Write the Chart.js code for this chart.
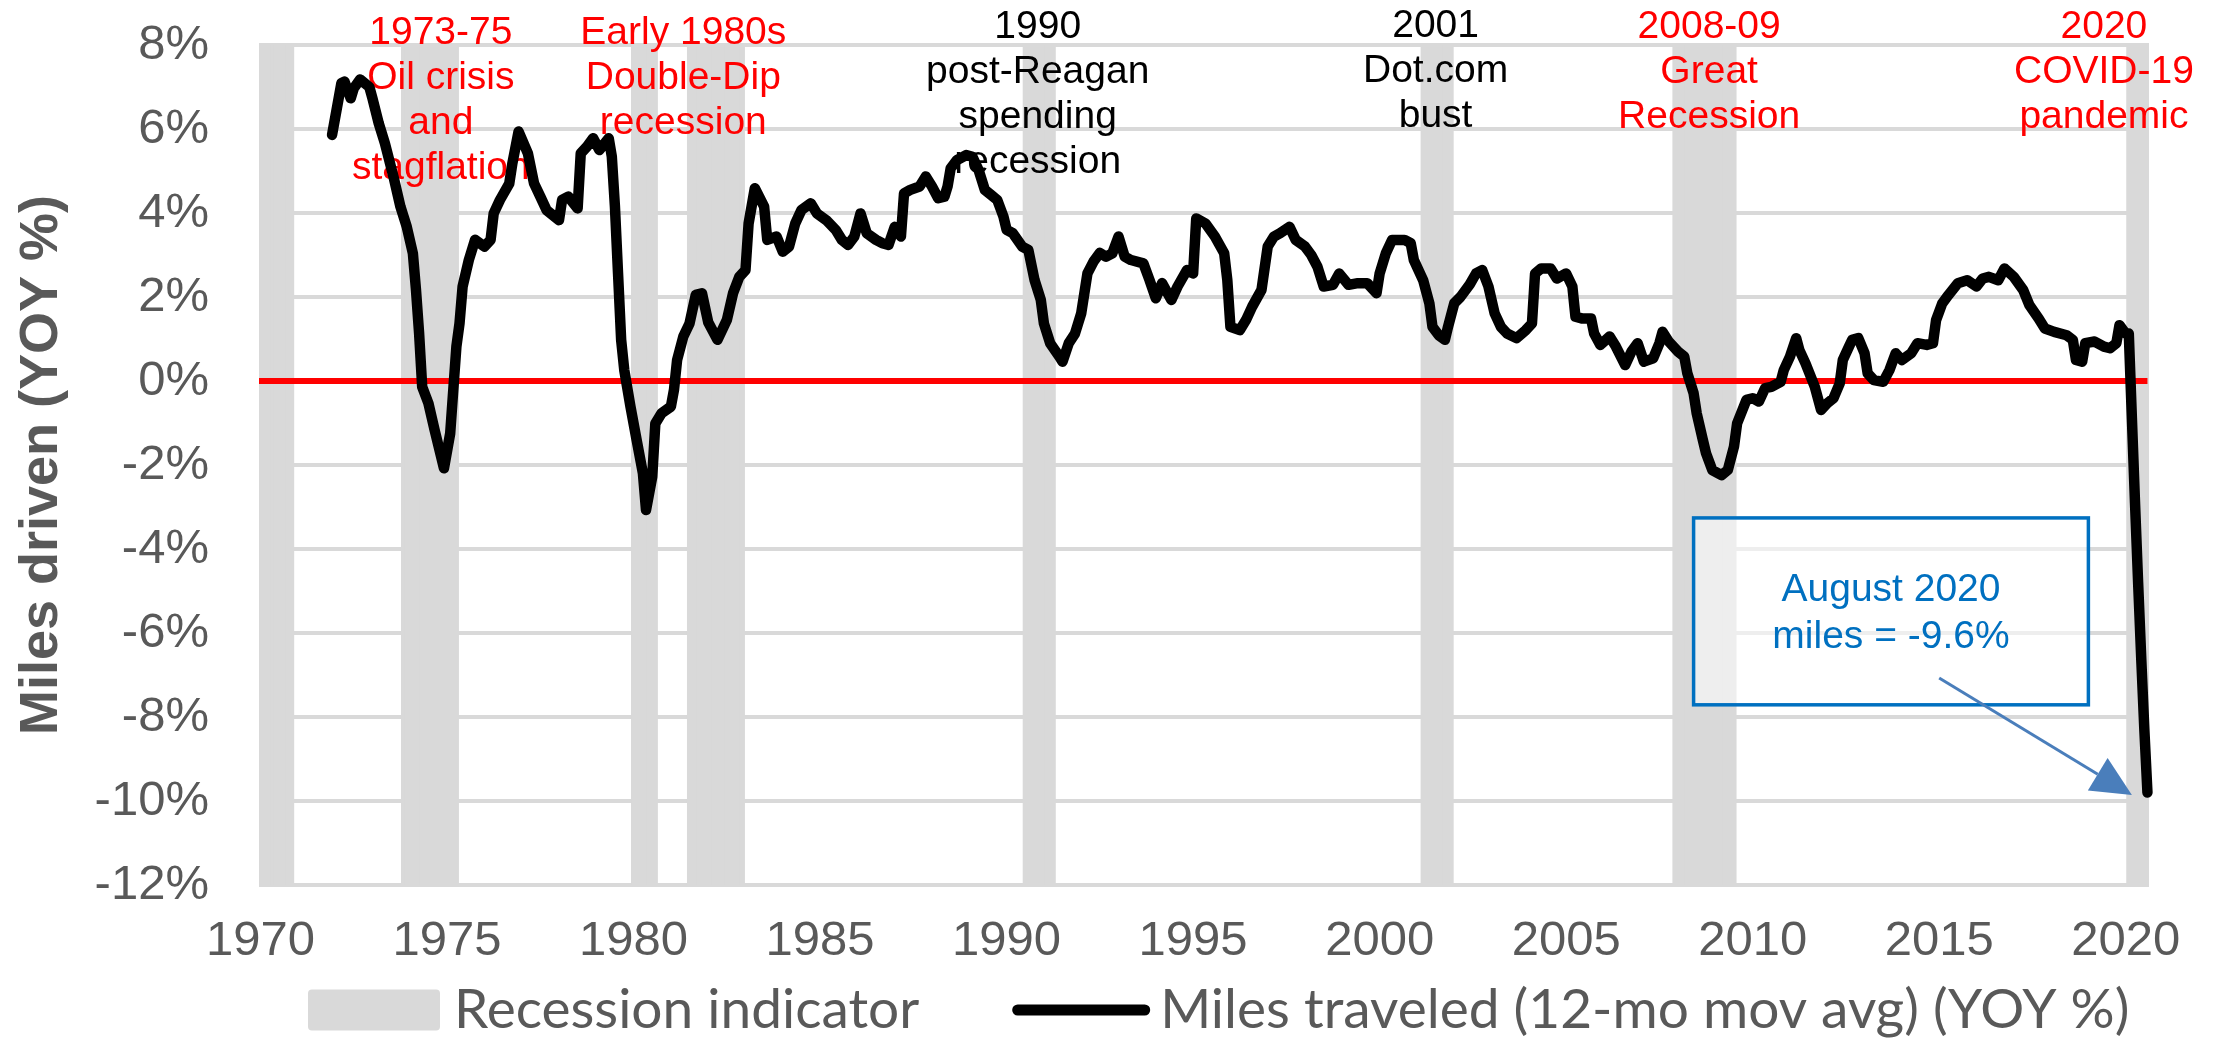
<!DOCTYPE html>
<html>
<head>
<meta charset="utf-8">
<title>Miles driven YOY</title>
<script src="https://cdn.jsdelivr.net/npm/chart.js@4.4.1/dist/chart.umd.min.js"></script>
<style>
  html, body { margin: 0; padding: 0; background: #ffffff; }
  #wrap { width: 2216px; height: 1045px; }
</style>
</head>
<body>
<div id="wrap"><canvas id="chart" width="2216" height="1045"></canvas></div>
<script>
// months on the x axis: Jan 1970 .. Aug 2020
const lastMonth = '2020-08';
const months = [];
for (let y = 1970; y <= 2020; y++) {
    for (let m = 1; m <= 12; m++) {
        const label = y + '-' + String(m).padStart(2, '0');
        months.push(label);
        if (label === lastMonth) break;
    }
}

const yearTicks = ['1970', '1975', '1980', '1985', '1990', '1995', '2000', '2005', '2010', '2015', '2020'];
const yMin = -12;
const yMax = 8;

// recession indicator (gray bands), first and last month of each
const recessionStart = ['1970-01', '1973-11', '1980-01', '1981-07', '1990-07', '2001-03', '2007-12', '2020-02'];
const recessionEnd = ['1970-11', '1975-04', '1980-08', '1982-12', '1991-04', '2001-12', '2009-07', '2020-08'];

// miles traveled, 12-mo moving average, YOY %
const milesMonths = [
    '1971-12',
    '1972-03', '1972-04', '1972-06', '1972-07', '1972-09', '1972-12',
    '1973-01', '1973-03', '1973-05', '1973-08', '1973-10', '1973-12',
    '1974-02', '1974-03', '1974-04', '1974-05', '1974-07', '1974-09', '1974-12',
    '1975-02', '1975-03', '1975-04', '1975-05', '1975-06', '1975-08', '1975-10',
    '1976-01', '1976-03', '1976-04', '1976-06', '1976-09', '1976-10', '1976-12',
    '1977-03', '1977-05', '1977-07', '1977-09',
    '1978-01', '1978-02', '1978-04', '1978-07', '1978-08', '1978-10', '1978-12',
    '1979-02', '1979-05', '1979-06', '1979-07', '1979-08', '1979-09', '1979-10', '1979-12',
    '1980-02', '1980-04', '1980-05', '1980-07', '1980-08', '1980-10',
    '1981-01', '1981-02', '1981-03', '1981-05', '1981-07', '1981-09', '1981-11',
    '1982-01', '1982-04', '1982-07', '1982-09', '1982-11',
    '1983-01', '1983-02', '1983-04', '1983-07', '1983-08', '1983-11',
    '1984-01', '1984-03', '1984-05', '1984-07', '1984-10', '1984-12',
    '1985-03', '1985-06', '1985-08', '1985-10', '1985-12',
    '1986-02', '1986-04', '1986-07', '1986-09', '1986-11',
    '1987-01', '1987-03', '1987-04', '1987-06', '1987-09', '1987-11',
    '1988-01', '1988-03', '1988-05', '1988-06', '1988-07', '1988-09', '1988-12',
    '1989-02', '1989-04', '1989-06', '1989-08', '1989-10', '1989-12',
    '1990-01', '1990-03', '1990-06', '1990-08', '1990-10', '1990-12',
    '1991-01', '1991-03', '1991-06', '1991-07', '1991-09', '1991-11',
    '1992-01', '1992-03', '1992-05', '1992-07', '1992-09', '1992-11',
    '1993-01', '1993-03', '1993-05', '1993-09', '1993-11',
    '1994-01', '1994-03', '1994-06', '1994-08', '1994-11',
    '1995-01', '1995-02', '1995-05', '1995-08', '1995-11', '1995-12',
    '1996-01', '1996-04', '1996-06', '1996-08', '1996-11',
    '1997-01', '1997-03', '1997-05', '1997-08', '1997-10',
    '1998-01', '1998-03', '1998-05', '1998-07', '1998-10', '1998-12',
    '1999-03', '1999-06', '1999-09', '1999-12',
    '2000-01', '2000-03', '2000-05', '2000-09', '2000-11', '2000-12',
    '2001-03', '2001-05', '2001-06', '2001-08', '2001-10', '2001-11',
    '2002-01', '2002-03', '2002-06', '2002-08', '2002-10', '2002-12',
    '2003-02', '2003-04', '2003-06', '2003-09', '2003-12',
    '2004-02', '2004-03', '2004-05', '2004-08', '2004-10',
    '2005-01', '2005-03', '2005-04', '2005-06', '2005-09', '2005-10', '2005-12',
    '2006-03', '2006-05', '2006-08', '2006-10', '2006-12',
    '2007-02', '2007-05', '2007-07', '2007-08', '2007-10',
    '2008-01', '2008-03', '2008-04', '2008-06', '2008-07', '2008-09', '2008-10', '2008-12',
    '2009-03', '2009-05', '2009-07', '2009-08', '2009-11',
    '2010-01', '2010-03', '2010-05', '2010-07', '2010-10', '2010-11',
    '2011-01', '2011-03', '2011-04', '2011-06', '2011-09', '2011-11',
    '2012-01', '2012-03', '2012-05', '2012-06', '2012-08', '2012-09', '2012-11',
    '2013-01', '2013-02', '2013-04', '2013-07', '2013-09', '2013-11',
    '2014-01', '2014-04', '2014-06', '2014-09', '2014-11', '2014-12',
    '2015-02', '2015-04', '2015-07', '2015-10',
    '2016-01', '2016-03', '2016-05', '2016-08', '2016-10',
    '2017-01', '2017-04', '2017-06', '2017-09', '2017-11',
    '2018-02', '2018-06', '2018-08', '2018-09', '2018-11', '2018-12',
    '2019-03', '2019-06', '2019-08', '2019-10', '2019-11',
    '2020-01', '2020-02', '2020-03', '2020-04', '2020-05', '2020-06', '2020-07', '2020-08',
];
const milesYoY = [
    5.86,
    7.09, 7.13, 6.73, 6.97, 7.18, 7.0,
    6.73, 6.14, 5.66, 4.79, 4.15, 3.68,
    3.04, 2.17, 1.14, -0.14, -0.53, -1.17, -2.08,
    -1.25, -0.21, 0.82, 1.37, 2.25, 2.88, 3.36,
    3.2, 3.36, 3.99, 4.31, 4.7, 5.18, 5.94,
    5.42, 4.7, 4.39, 4.07,
    3.83, 4.31, 4.39, 4.11, 5.42, 5.58, 5.78,
    5.5, 5.78, 5.34, 4.15, 2.56, 0.98, 0.26, -0.61,
    -1.41, -2.2, -3.07, -2.28, -1.01, -0.77,
    -0.61, -0.21, 0.5, 1.06, 1.37, 2.05, 2.09,
    1.4, 0.98, 1.45, 2.09, 2.48,
    2.64, 3.75, 4.59, 4.15, 3.36, 3.44,
    3.08, 3.2, 3.75, 4.07, 4.23, 3.99,
    3.83, 3.6, 3.36, 3.24, 3.44,
    3.99, 3.52, 3.36, 3.28, 3.24,
    3.67, 3.44, 4.47, 4.55, 4.63, 4.87,
    4.63, 4.35, 4.39, 4.63, 5.06, 5.26, 5.38,
    5.34, 5.02, 4.55, 4.43, 4.31, 3.91,
    3.6, 3.52, 3.2, 3.12, 2.4, 1.93,
    1.37, 0.9, 0.58, 0.46, 0.9, 1.13,
    1.61, 2.56, 2.85, 3.05, 2.96, 3.04,
    3.44, 2.96, 2.88, 2.8, 2.4,
    1.97, 2.33, 1.93, 2.25, 2.64,
    2.56, 3.87, 3.75, 3.44, 3.04, 2.4,
    1.29, 1.21, 1.45, 1.77, 2.17,
    3.2, 3.44, 3.52, 3.67, 3.36,
    3.2, 3.0, 2.72, 2.25, 2.29, 2.56,
    2.29, 2.33, 2.33, 2.09,
    2.56, 3.04, 3.36, 3.36, 3.28, 2.88,
    2.4, 1.85, 1.29, 1.09, 0.98, 1.29,
    1.85, 2.0, 2.3, 2.56, 2.64, 2.25,
    1.61, 1.29, 1.13, 1.02, 1.21,
    1.37, 2.56, 2.68, 2.68, 2.44,
    2.56, 2.25, 1.53, 1.49, 1.49, 1.13, 0.86,
    1.06, 0.82, 0.38, 0.7, 0.9,
    0.46, 0.54, 0.9, 1.17, 0.94,
    0.7, 0.58, 0.18, -0.29, -0.77, -1.41, -1.72, -2.12,
    -2.24, -2.12, -1.56, -1.01, -0.45,
    -0.41, -0.49, -0.17, -0.14, -0.02, 0.26,
    0.58, 1.02, 0.74, 0.42, -0.14, -0.69,
    -0.53, -0.41, -0.06, 0.5, 0.82, 0.98, 1.02,
    0.66, 0.18, 0.02, -0.02, 0.26, 0.66,
    0.5, 0.66, 0.9, 0.86, 0.9, 1.45,
    1.85, 2.05, 2.33, 2.4,
    2.25, 2.44, 2.48, 2.4, 2.68,
    2.48, 2.17, 1.81, 1.49, 1.25,
    1.17, 1.09, 0.98, 0.5, 0.46, 0.9,
    0.94, 0.82, 0.78, 0.9, 1.33,
    1.13, 1.13, -0.9, -2.9, -4.8, -6.6, -8.3, -9.8,
];

const GREY = '#595959';
const RED = '#ff0000';
const BLUE = '#0070c0';
const ARIAL = '"Liberation Sans", Arial, sans-serif';

// text notes over the recessions: column month, value of the first line
const eventNotes = [
    { month: '1974-11', top: 8.29, color: RED, lines: ['1973-75', 'Oil crisis', 'and', 'stagflation'] },
    { month: '1981-05', top: 8.29, color: RED, lines: ['Early 1980s', 'Double-Dip', 'recession'] },
    { month: '1990-11', top: 8.43, color: '#000000', lines: ['1990', 'post-Reagan', 'spending', 'recession'] },
    { month: '2001-07', top: 8.45, color: '#000000', lines: ['2001', 'Dot.com', 'bust'] },
    { month: '2008-11', top: 8.43, color: RED, lines: ['2008-09', 'Great', 'Recession'] },
    { month: '2019-06', top: 8.43, color: RED, lines: ['2020', 'COVID-19', 'pandemic'] },
];

const callout = {
    from: '2008-06', to: '2019-01', top: -3.26, bottom: -7.71,
    lines: ['August 2020', 'miles = -9.6%'],
    arrowFrom: ['2015-01', -7.07],
    arrowTo: ['2020-03', -9.86],
};

const recessionBars = months.map((m) => {
    for (let i = 0; i < recessionStart.length; i++) {
        if (m >= recessionStart[i] && m <= recessionEnd[i]) return [yMin, yMax];
    }
    return null;
});

const milesPoints = milesMonths.map((m, i) => ({ x: m, y: milesYoY[i] }));

function xAt(chart, month) {
    return chart.scales.x.getPixelForValue(months.indexOf(month));
}
function yAt(chart, value) {
    return chart.scales.y.getPixelForValue(value);
}

function drawZeroLineAndNotes(chart) {
    const ctx = chart.ctx;
    const area = chart.chartArea;
    const y0 = yAt(chart, 0);
    ctx.save();
    ctx.strokeStyle = RED;
    ctx.lineWidth = 6;
    ctx.beginPath();
    ctx.moveTo(area.left, y0);
    ctx.lineTo(chart.scales.x.getPixelForValue(months.length - 1), y0);
    ctx.stroke();

    ctx.font = '39px ' + ARIAL;
    ctx.textAlign = 'center';
    ctx.textBaseline = 'middle';
    eventNotes.forEach((note) => {
        const x = xAt(chart, note.month);
        const y = yAt(chart, note.top);
        ctx.fillStyle = note.color;
        note.lines.forEach((line, i) => ctx.fillText(line, x, y + i * 45));
    });
    ctx.restore();
}

function drawCallout(chart) {
    const ctx = chart.ctx;
    const left = xAt(chart, callout.from);
    const right = xAt(chart, callout.to);
    const top = yAt(chart, callout.top);
    const bottom = yAt(chart, callout.bottom);
    ctx.save();
    ctx.fillStyle = 'rgba(255,255,255,0.55)';
    ctx.fillRect(left, top, right - left, bottom - top);
    ctx.strokeStyle = BLUE;
    ctx.lineWidth = 3.5;
    ctx.strokeRect(left, top, right - left, bottom - top);

    ctx.fillStyle = BLUE;
    ctx.font = '39px ' + ARIAL;
    ctx.textAlign = 'center';
    ctx.textBaseline = 'middle';
    const cx = (left + right) / 2;
    callout.lines.forEach((line, i) => ctx.fillText(line, cx, top + 72 + i * 47));

    // arrow to the last point
    const x1 = xAt(chart, callout.arrowFrom[0]);
    const y1 = yAt(chart, callout.arrowFrom[1]);
    const x2 = xAt(chart, callout.arrowTo[0]);
    const y2 = yAt(chart, callout.arrowTo[1]);
    const ang = Math.atan2(y2 - y1, x2 - x1);
    const headLen = 40;
    const headHalf = 19;
    const bx = x2 - Math.cos(ang) * headLen;
    const by = y2 - Math.sin(ang) * headLen;
    ctx.strokeStyle = '#4a7ebb';
    ctx.fillStyle = '#4a7ebb';
    ctx.lineWidth = 3;
    ctx.beginPath();
    ctx.moveTo(x1, y1);
    ctx.lineTo(bx, by);
    ctx.stroke();
    ctx.beginPath();
    ctx.moveTo(x2, y2);
    ctx.lineTo(bx - Math.sin(ang) * headHalf, by + Math.cos(ang) * headHalf);
    ctx.lineTo(bx + Math.sin(ang) * headHalf, by - Math.cos(ang) * headHalf);
    ctx.closePath();
    ctx.fill();
    ctx.restore();
}

function drawLegend(chart) {
    const ctx = chart.ctx;
    const area = chart.chartArea;
    const [bars, line] = chart.data.datasets;
    const yMid = area.bottom + 125;
    let x = area.left + 49;
    ctx.save();
    ctx.font = '55px Lato, "Open Sans", sans-serif';
    ctx.textAlign = 'left';
    ctx.textBaseline = 'middle';

    ctx.fillStyle = bars.backgroundColor;
    ctx.beginPath();
    ctx.roundRect(x, yMid - 20.5, 132, 41, 4);
    ctx.fill();
    x += 132 + 14;
    ctx.fillStyle = GREY;
    ctx.fillText(bars.label, x, yMid);
    x += ctx.measureText(bars.label).width + 93;

    ctx.strokeStyle = line.borderColor;
    ctx.lineWidth = 11;
    ctx.lineCap = 'round';
    ctx.beginPath();
    ctx.moveTo(x + 5.5, yMid);
    ctx.lineTo(x + 132.5, yMid);
    ctx.stroke();
    x += 138 + 10;
    ctx.fillText(line.label, x, yMid);
    ctx.restore();
}

const annotations = {
    id: 'annotations',
    afterDatasetDraw(chart, args) {
        if (args.index === 0) drawZeroLineAndNotes(chart);
    },
    afterDatasetsDraw(chart) {
        drawCallout(chart);
    },
    afterDraw(chart) {
        drawLegend(chart);
    },
};

new Chart(document.getElementById('chart'), {
    type: 'bar',
    data: {
        labels: months,
        datasets: [
            {
                type: 'bar',
                label: 'Recession indicator',
                data: recessionBars,
                backgroundColor: '#d9d9d9',
                borderWidth: 0,
                barPercentage: 1,
                categoryPercentage: 1,
                inflateAmount: 1,
                order: 2,
            },
            {
                type: 'line',
                label: 'Miles traveled (12-mo mov avg) (YOY %)',
                data: milesPoints,
                borderColor: '#000000',
                borderWidth: 10.5,
                pointRadius: 0,
                tension: 0,
                borderJoinStyle: 'round',
                borderCapStyle: 'round',
                order: 1,
            },
        ],
    },
    options: {
        responsive: false,
        animation: false,
        devicePixelRatio: 1,
        layout: { padding: { top: 45, right: 67, bottom: 0, left: 0 } },
        plugins: {
            legend: { display: false },
            tooltip: { enabled: false },
        },
        scales: {
            x: {
                grid: { display: false, drawTicks: false },
                border: { display: false },
                ticks: {
                    autoSkip: false,
                    maxRotation: 0,
                    minRotation: 0,
                    padding: 27,
                    color: GREY,
                    font: { family: ARIAL, size: 49 },
                    callback: (value) => {
                        const m = months[value];
                        return m.endsWith('-01') && yearTicks.includes(m.slice(0, 4)) ? m.slice(0, 4) : '';
                    },
                },
                afterFit: (scale) => { scale.height = 160; },
            },
            y: {
                min: yMin,
                max: yMax,
                border: { display: false },
                grid: { color: '#d9d9d9', lineWidth: 4, drawTicks: false },
                ticks: {
                    stepSize: 2,
                    padding: 50,
                    color: GREY,
                    font: { family: ARIAL, size: 49 },
                    callback: (v) => v + '%',
                },
                title: {
                    display: true,
                    text: 'Miles driven (YOY %)',
                    color: GREY,
                    font: { family: ARIAL, size: 54, weight: 'bold' },
                    padding: { top: 10, bottom: 0 },
                },
                afterFit: (scale) => {
                    scale.width = 259;
                    // the tick padding is horizontal only here
                    scale.paddingTop = 0;
                    scale.paddingBottom = 0;
                },
            },
        },
    },
    plugins: [annotations],
});
</script>
</body>
</html>
